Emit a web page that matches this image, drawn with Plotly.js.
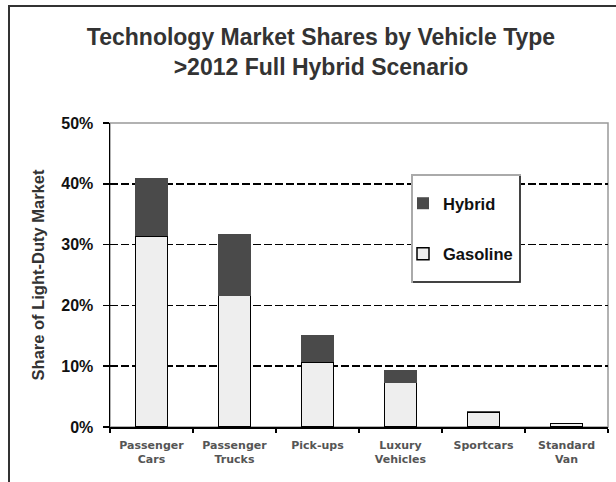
<!DOCTYPE html>
<html>
<head>
<meta charset="utf-8">
<script src="https://cdn.plot.ly/plotly-3.0.1.min.js"></script>
<style>
html,body{margin:0;padding:0;background:#fff;}
#chart{width:616px;height:482px;}
</style>
</head>
<body>
<div id="chart"></div>
<script>
const categories = ["Passenger<br>Cars", "Passenger<br>Trucks", "Pick-ups", "Luxury<br>Vehicles", "Sportcars", "Standard<br>Van"];
const gasoline = [31.4, 21.6, 10.7, 7.3, 2.4, 0.6];
const hybrid = [9.6, 10.1, 4.4, 2.0, 0.2, 0.0];
const seriesNames = ["Gasoline", "Hybrid"];
const yTicks = [0, 10, 20, 30, 40, 50];

const FONT = "Liberation Sans, Arial, sans-serif";

const traces = [
  {
    type: "bar", name: seriesNames[0], x: categories, y: gasoline,
    width: 0.39, legendgroup: "g", legendrank: 2,
    marker: {color: "#eeeeee", line: {color: "#000", width: 1.5}},
    hoverinfo: "skip"
  },
  {
    type: "bar", name: seriesNames[1], x: categories, y: hybrid,
    width: 0.39, legendgroup: "h", legendrank: 1,
    marker: {color: "#4a4a4a", line: {color: "#4a4a4a", width: 0}},
    hoverinfo: "skip"
  }
];

const L = 110, R = 8, T = 123, B = 55, W = 616, H = 482;
const pw = W - L - R, ph = H - T - B;
const px = v => (v - L) / pw;
const py = v => (H - B - v) / ph;

const layout = {
  width: W, height: H,
  margin: {l: L, r: R, t: T, b: B},
  paper_bgcolor: "#fff", plot_bgcolor: "#fff",
  barmode: "stack",
  showlegend: true,
  font: {family: FONT, color: "#000"},
  title: {
    text: "Technology Market Shares by Vehicle Type<br>>2012 Full Hybrid Scenario",
    x: 321 / W, xanchor: "center", y: 1 - 45 / H, yanchor: "middle",
    font: {family: FONT, size: 23, color: "#333", weight: "bold"}
  },
  xaxis: {
    type: "category",
    showline: true, linecolor: "#000", linewidth: 1.5,
    ticks: "outside", ticklen: 4, tickcolor: "#000", tickwidth: 1.5,
    tickson: "boundaries",
    ticklabelstandoff: 7,
    showgrid: false, zeroline: false,
    tickfont: {family: "DejaVu Sans, sans-serif", size: 11, color: "#555", weight: "bold"},
    fixedrange: true
  },
  yaxis: {
    range: [0, 50],
    tickvals: yTicks,
    ticktext: yTicks.map(v => v + "%"),
    showline: true, linecolor: "#000", linewidth: 1.5,
    ticks: "outside", ticklen: 6, tickcolor: "#000", tickwidth: 1.5,
    ticklabelstandoff: 6,
    showgrid: true, gridcolor: "#000", gridwidth: 1.5, griddash: "8px,3px",
    zeroline: false,
    tickfont: {family: FONT, size: 16, color: "#111", weight: "bold"},
    title: {text: "Share of Light-Duty Market", standoff: 12,
            font: {family: FONT, size: 16.5, color: "#333", weight: "bold"}},
    fixedrange: true
  },
  legend: {
    x: px(403), xanchor: "left", y: py(186), yanchor: "top",
    bgcolor: "rgba(0,0,0,0)", borderwidth: 0,
    traceorder: "grouped", tracegroupgap: 26,
    font: {family: FONT, size: 16.5, color: "#111", weight: "bold"},
    itemwidth: 30
  },
  shapes: [
    {type: "rect", xref: "paper", yref: "paper", x0: 0, x1: 1, y0: 0, y1: 1,
     line: {color: "#999", width: 1.5}, layer: "below"},
    {type: "path", xref: "paper", yref: "paper",
     path: `M ${px(9)} ${py(500)} L ${px(9)} ${py(6)} L ${px(640)} ${py(6)}`,
     line: {color: "#333", width: 2}},
    {type: "rect", xref: "paper", yref: "paper",
     x0: px(412), x1: px(520), y0: py(282), y1: py(175),
     fillcolor: "#fff", line: {color: "#aaa", width: 2}, layer: "above"},
    {type: "path", xref: "paper", yref: "paper",
     path: `M ${px(520)} ${py(176)} L ${px(520)} ${py(282)} L ${px(413)} ${py(282)}`,
     line: {color: "#222", width: 1.5}, layer: "above"}
  ]
};

Plotly.newPlot("chart", traces, layout, {staticPlot: true, displayModeBar: false});
</script>
</body>
</html>
